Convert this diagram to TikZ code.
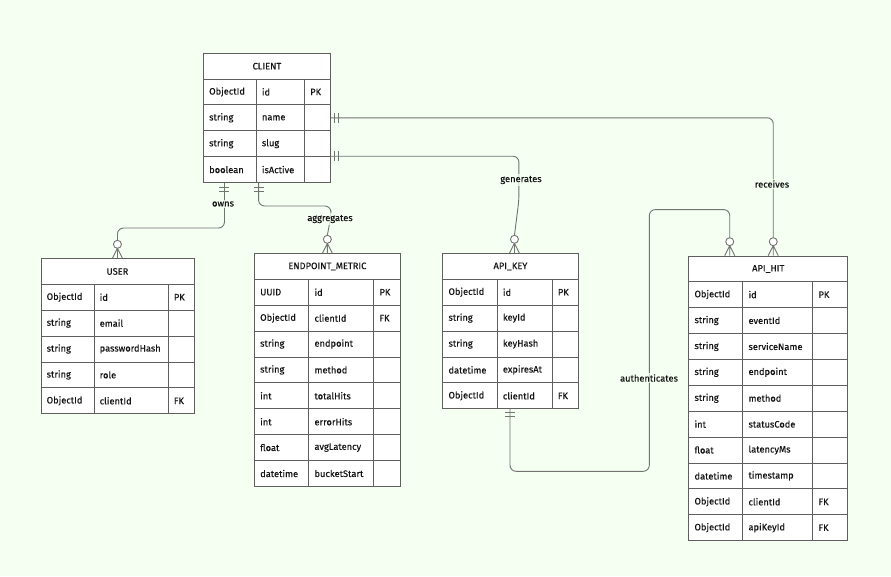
\documentclass[tikz,border=0pt]{standalone}
\usepackage{fontspec}
\setmainfont{Fira Sans}
\newfontfamily\erff{Fira Sans}[FakeBold=0.3]
\usetikzlibrary{calc}
\definecolor{bg}{RGB}{245,255,242}
\definecolor{ln}{RGB}{95,95,95}
\definecolor{cn}{RGB}{115,115,115}
\definecolor{tx}{RGB}{20,20,20}
\newcommand\erfont{\erff\fontsize{9.3}{11}\selectfont}
\tikzset{
  ehead/.style={draw=ln, line width=0.9pt, fill=white, minimum height=25.5pt, inner sep=0pt, font=\erfont, text=tx},
  ecell/.style={draw=ln, line width=0.9pt, fill=white, minimum height=25.9pt, inner sep=0pt},
  etext/.style={inner sep=0pt, font=\erfont, text=tx, anchor=west},
  rel/.style={draw=cn, line width=0.9pt, rounded corners=6pt},
  rlabel/.style={fill=bg, fill opacity=0.75, text opacity=1, inner sep=1.5pt, font=\erfont, text=tx},
  zmany/.pic={
    \draw[cn, line width=0.9pt, fill=white] (0,-14) circle (4pt);
    \draw[cn, line width=0.9pt] (0,-10) -- (-5,0) (0,-10) -- (0,0) (0,-10) -- (5,0);
  },
  barsdown/.pic={
    \draw[cn, line width=0.9pt] (-5,4) -- (5,4) (-5,8) -- (5,8);
  },
  barsright/.pic={
    \draw[cn, line width=0.9pt] (4,-5) -- (4,5) (8,-5) -- (8,5);
  },
}
% #1 name, #2 x, #3 y, #4 w1, #5 w2, #6 w3, #7 title, #8 rows
\newcommand\erentity[8]{%
  \pgfmathsetmacro\erW{#4+#5+#6}%
  \node[ehead, minimum width=\erW pt, anchor=north west] (#1) at (#2,#3) {};
  \node[inner sep=0pt, font=\erfont, text=tx] (#1-title) at (#1.center) {#7};
  \foreach \ta/\na/\ka [count=\i] in {#8} {
    \pgfmathsetmacro\ry{#3+25.5+(\i-1)*25.9}
    \pgfmathsetmacro\xb{#2+#4}
    \pgfmathsetmacro\xc{#2+#4+#5}
    \pgfmathsetmacro\yb{#3+25.5+\i*25.9}
    \pgfmathsetmacro\xm{#2+\erW/2}
    \node[ecell, minimum width=#4pt, anchor=north west] (#1-\i-t) at (#2,\ry) {};
    \node[ecell, minimum width=#5pt, anchor=north west] (#1-\i-n) at (\xb,\ry) {};
    \node[ecell, minimum width=#6pt, anchor=north west] (#1-\i-k) at (\xc,\ry) {};
    \node[etext] (#1-\i-tt) at ([xshift=6pt]#1-\i-t.west) {\ta};
    \node[etext] (#1-\i-nt) at ([xshift=6pt]#1-\i-n.west) {\na};
    \node[etext] (#1-\i-kt) at ([xshift=6pt]#1-\i-k.west) {\ka};
    \coordinate (#1-bot) at (\xm,\yb);
  }
}
\begin{document}
\begin{tikzpicture}[x=1pt,y=-1pt]
\useasboundingbox[fill=bg] (0,0) rectangle (891,576);

\erentity{client}{203}{53}{52.7}{48.3}{26}{CLIENT}{ObjectId/id/PK, string/name/{}, string/slug/{}, boolean/isActive/{}}
\erentity{user}{40.5}{258.3}{53}{74.2}{25.8}{USER}{ObjectId/id/PK, string/email/{}, string/passwordHash/{}, string/role/{}, ObjectId/clientId/FK}
\erentity{em}{254}{253.3}{54.3}{65}{26.5}{ENDPOINT\_METRIC}{UUID/id/PK, ObjectId/clientId/FK, string/endpoint/{}, string/method/{}, int/totalHits/{}, int/errorHits/{}, float/avgLatency/{}, datetime/bucketStart/{}}
\erentity{apikey}{442.3}{253.3}{54.4}{55}{26}{API\_KEY}{ObjectId/id/PK, string/keyId/{}, string/keyHash/{}, datetime/expiresAt/{}, ObjectId/clientId/FK}
\erentity{apihit}{688.3}{255.7}{54}{70}{35}{API\_HIT}{ObjectId/id/PK, string/eventId/{}, string/serviceName/{}, string/endpoint/{}, string/method/{}, int/statusCode/{}, float/latencyMs/{}, datetime/timestamp/{}, ObjectId/clientId/FK, ObjectId/apiKeyId/FK}

% owns
\draw[rel] ([xshift=-5.35pt]client-4-t.south) -- ++(0,45) -| ([yshift=18pt]user.north);
\pic at ([xshift=-5.35pt]client-4-t.south) {barsdown};
\pic at (user.north) {zmany};
\node[rlabel] (l-owns) at (223,204) {owns};

% aggregates
\draw[rel] ([xshift=2pt]client-4-t.south east) -- ++(0,23) -- ++(72.3,0) -- ++(0,10) -- ([yshift=18pt]em.north);
\pic at ([xshift=2pt]client-4-t.south east) {barsdown};
\pic at (em.north) {zmany};
\node[rlabel] (l-agg) at (330,219) {aggregates};

% generates
\draw[rel] (client-4-k.north east) -- ++(188,0) -- ++(0,44) -- ([xshift=4pt,yshift=18pt]apikey.north);
\pic at (client-4-k.north east) {barsright};
\pic at ([xshift=4pt]apikey.north) {zmany};
\node[rlabel] (l-gen) at (521,180) {generates};

% receives
\draw[rel] (client-2-k.east) -| ([xshift=5pt,yshift=18pt]apihit.north);
\pic at (client-2-k.east) {barsright};
\pic at ([xshift=5pt]apihit.north) {zmany};
\node[rlabel] (l-rec) at (772,184) {receives};

% authenticates
\draw[rel] (apikey-bot) -- ++(0,63) -- ++(139.3,0) -- ++(0,-261.7) -| ([xshift=-38.5pt,yshift=18pt]apihit.north);
\pic at (apikey-bot) {barsdown};
\pic at ([xshift=-38.5pt]apihit.north) {zmany};
\node[rlabel] (l-auth) at (649,378) {authenticates};
\end{tikzpicture}
\end{document}
